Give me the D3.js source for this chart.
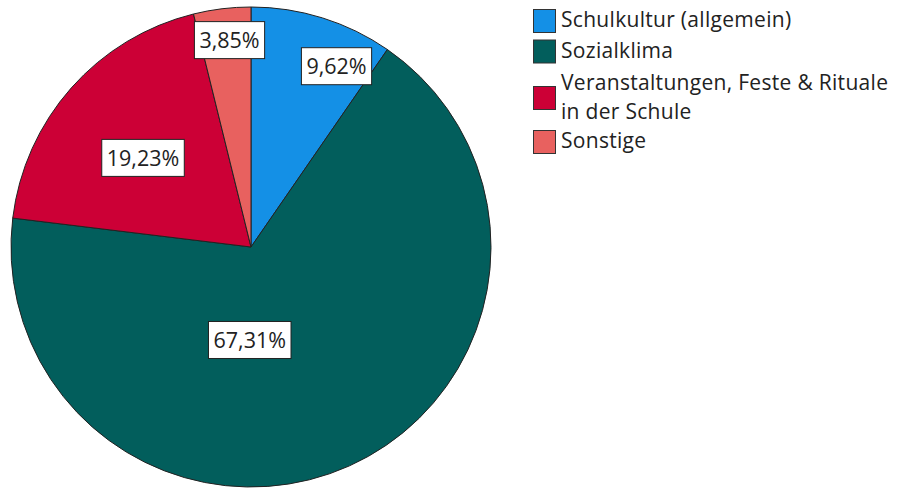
<!DOCTYPE html>
<html>
<head>
<meta charset="utf-8">
<script src="https://cdn.jsdelivr.net/npm/d3@7"></script>
<style>
  body { margin: 0; background: #fff; }
  svg text { font-family: "Open Sans", "Noto Sans", sans-serif; fill: #222; }
</style>
</head>
<body>
<div id="chart"></div>
<script>
// categories and shares (percent)
var categories = ["Schulkultur (allgemein)", "Sozialklima", "Veranstaltungen, Feste & Rituale\nin der Schule", "Sonstige"];
var shares = [9.62, 67.31, 19.23, 3.85];
var labels = ["9,62%", "67,31%", "19,23%", "3,85%"];
var colors = ["#1490e6", "#025e5c", "#cc0036", "#e8615f"];

var width = 915, height = 488;
var cx = 251, cy = 247, radius = 240;

// label placement tweaks (angle shift in degrees, distance from centre)
var labelPlace = [
    {shift: 8, r: 200},
    {shift: 25, r: 93},
    {shift: -2, r: 140},
    {shift: 1, r: 208}
];

var data = categories.map(function(c, i) {
    return {name: c, value: shares[i], label: labels[i], color: colors[i]};
});

var svg = d3.select("#chart").append("svg")
    .attr("width", width)
    .attr("height", height);

var pie = d3.pie()
    .sort(null)
    .value(function(d) { return d.value; });

var arc = d3.arc()
    .innerRadius(0)
    .outerRadius(radius);

var g = svg.append("g")
    .attr("transform", "translate(" + cx + "," + cy + ")");

var arcs = pie(data);

g.selectAll("path.slice")
    .data(arcs)
    .enter()
    .append("path")
    .attr("class", "slice")
    .attr("d", arc)
    .attr("fill", function(d) { return d.data.color; })
    .attr("stroke", "#222")
    .attr("stroke-width", 1);

// labels in boxes
var lab = g.selectAll("g.lab")
    .data(arcs)
    .enter()
    .append("g")
    .attr("class", "lab")
    .attr("transform", function(d, i) {
        var a = (d.startAngle + d.endAngle) / 2 + labelPlace[i].shift * Math.PI / 180;
        var r = labelPlace[i].r;
        return "translate(" + (Math.sin(a) * r) + "," + (-Math.cos(a) * r) + ")";
    });

lab.append("text")
    .attr("text-anchor", "middle")
    .attr("dy", "0.36em")
    .attr("font-size", 21.5)
    .text(function(d) { return d.data.label; });

lab.each(function() {
    var t = d3.select(this).select("text");
    var b = t.node().getBBox();
    d3.select(this).insert("rect", "text")
        .attr("x", b.x - 5)
        .attr("y", -18.5)
        .attr("width", b.width + 10)
        .attr("height", 37)
        .attr("fill", "#fff")
        .attr("stroke", "#222")
        .attr("stroke-width", 1);
});

// legend
var legendTops = [9, 39.5, 86, 130];
var legend = svg.selectAll("g.legend")
    .data(data)
    .enter()
    .append("g")
    .attr("class", "legend")
    .attr("transform", function(d, i) { return "translate(533," + legendTops[i] + ")"; });

legend.append("rect")
    .attr("x", 0.5)
    .attr("y", 0.5)
    .attr("width", 22)
    .attr("height", 23)
    .attr("fill", function(d) { return d.color; })
    .attr("stroke", "#333")
    .attr("stroke-width", 1);

legend.each(function(d) {
    var lines = d.name.split("\n");
    var t = d3.select(this).append("text")
        .attr("x", 28)
        .attr("font-size", 21)
        .attr("letter-spacing", 0.3);
    lines.forEach(function(line, j) {
        t.append("tspan")
            .attr("x", 28)
            .attr("y", lines.length > 1 ? (j === 0 ? 3.5 : 32.5) : 18)
            .text(line);
    });
});
</script>
</body>
</html>
